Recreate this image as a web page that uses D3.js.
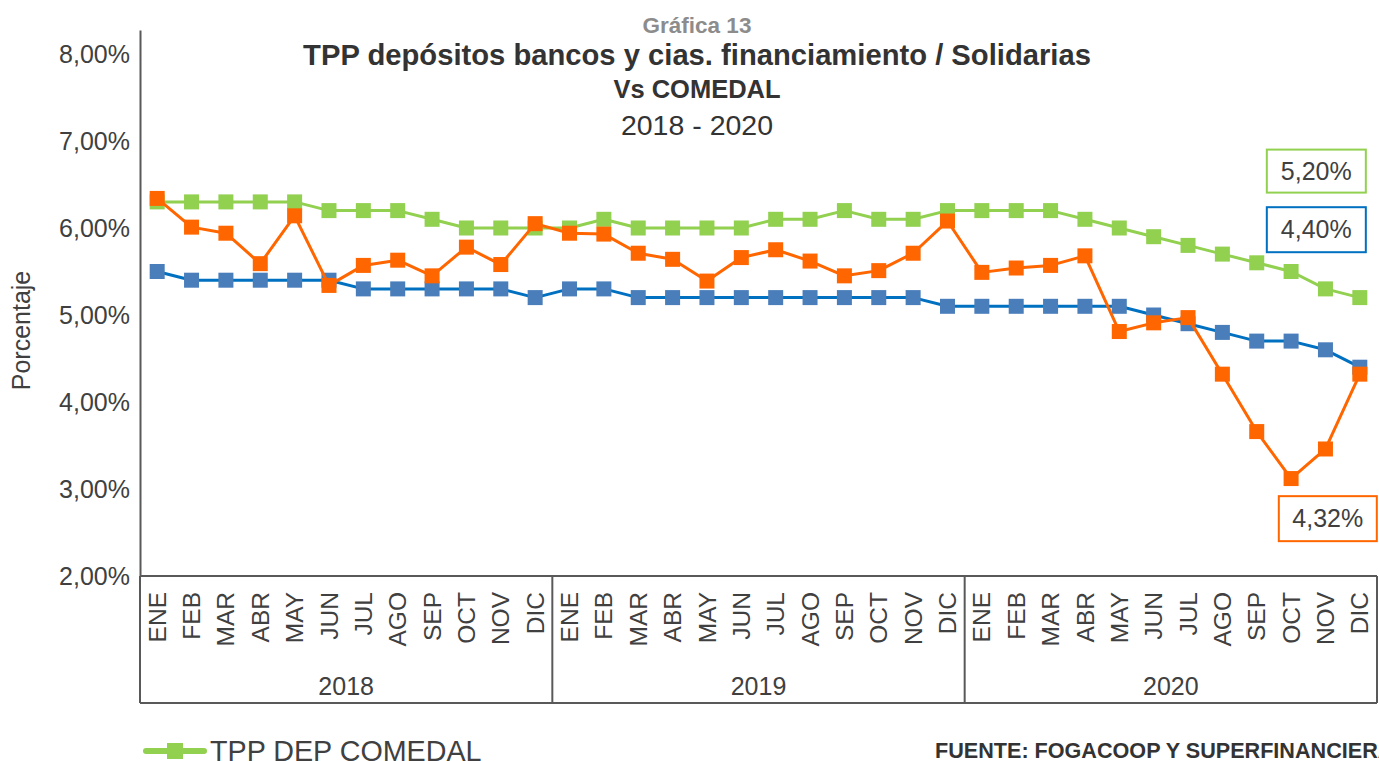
<!DOCTYPE html>
<html>
<head>
<meta charset="utf-8">
<script src="https://cdn.jsdelivr.net/npm/d3@7"></script>
<style>
  html, body { margin: 0; padding: 0; background: #fff; overflow: hidden; }
  svg { display: block; font-family: "Liberation Sans", Arial, Helvetica, sans-serif; }
</style>
</head>
<body>
<svg id="chart" width="1379" height="761"></svg>
<script>
const months = ["ENE","FEB","MAR","ABR","MAY","JUN","JUL","AGO","SEP","OCT","NOV","DIC"];
const years = ["2018","2019","2020"];
const yTicks = [2, 3, 4, 5, 6, 7, 8];

const comedal = [6.3,6.3,6.3,6.3,6.3,6.2,6.2,6.2,6.1,6.0,6.0,6.0,
                 6.0,6.1,6.0,6.0,6.0,6.0,6.1,6.1,6.2,6.1,6.1,6.2,
                 6.2,6.2,6.2,6.1,6.0,5.9,5.8,5.7,5.6,5.5,5.3,5.2];
const bancos = [5.5,5.4,5.4,5.4,5.4,5.4,5.3,5.3,5.3,5.3,5.3,5.2,
                5.3,5.3,5.2,5.2,5.2,5.2,5.2,5.2,5.2,5.2,5.2,5.1,
                5.1,5.1,5.1,5.1,5.1,5.0,4.9,4.8,4.7,4.7,4.6,4.4];
const solidarias = [6.34,6.01,5.94,5.59,6.14,5.34,5.57,5.63,5.45,5.78,5.58,6.05,
                    5.94,5.93,5.71,5.64,5.39,5.66,5.75,5.62,5.45,5.51,5.71,6.08,
                    5.49,5.54,5.57,5.68,4.81,4.91,4.97,4.32,3.66,3.12,3.46,4.32];

const titleLines = ["Gráfica 13", "TPP depósitos bancos y cias. financiamiento / Solidarias", "Vs COMEDAL", "2018 - 2020"];
const legendLabel = "TPP DEP COMEDAL";
const sourceText = "FUENTE: FOGACOOP Y SUPERFINANCIERA";

const fmt = v => d3.format(".2f")(v).replace(".", ",") + "%";

const svg = d3.select("#chart");
const textColor = "#404040";
const axisColor = "#595959";

const pLeft = 140, pRight = 1377, pTop = 30, pBottom = 576, boxBottom = 703;

// categories
const cats = [];
years.forEach(yr => months.forEach(m => cats.push({ yr, m })));
const x = d3.scaleBand().domain(d3.range(cats.length)).range([pLeft, pRight]);
const y = d3.scaleLinear().domain([2, 2 + (pBottom - pTop) / 87]).range([pBottom, pTop]);
const cx = i => x(i) + x.bandwidth() / 2;

// Titles
const tcx = 697;
svg.append("text").attr("x", tcx).attr("y", 33).attr("text-anchor", "middle")
  .attr("font-size", 22.5).attr("font-weight", "bold").attr("fill", "#8c8c8c").text(titleLines[0]);
svg.append("text").attr("x", tcx).attr("y", 65).attr("text-anchor", "middle")
  .attr("font-size", 29.2).attr("font-weight", "bold").attr("fill", "#333").text(titleLines[1]);
svg.append("text").attr("x", tcx).attr("y", 98).attr("text-anchor", "middle")
  .attr("font-size", 25.5).attr("font-weight", "bold").attr("fill", "#333").text(titleLines[2]);
svg.append("text").attr("x", tcx).attr("y", 135).attr("text-anchor", "middle")
  .attr("font-size", 28.5).attr("fill", "#333").text(titleLines[3]);

// Y axis
const yAxis = d3.axisLeft(y).tickValues(yTicks).tickSize(0).tickPadding(10).tickFormat(fmt);
const gy = svg.append("g").attr("transform", `translate(${pLeft},0)`).call(yAxis);
gy.select(".domain").attr("stroke", axisColor).attr("stroke-width", 2);
gy.selectAll("text").attr("font-size", 25).attr("fill", textColor)
  .attr("font-family", "Liberation Sans, Arial, sans-serif");

svg.append("text")
  .attr("transform", `translate(30,${(268 + 393) / 2}) rotate(-90)`)
  .attr("text-anchor", "middle").attr("font-size", 25).attr("fill", textColor).text("Porcentaje");

// X axis (multi-level category box)
const gx = svg.append("g");
gx.append("line").attr("x1", pLeft).attr("x2", pRight).attr("y1", pBottom).attr("y2", pBottom)
  .attr("stroke", axisColor).attr("stroke-width", 2);
gx.append("line").attr("x1", pLeft).attr("x2", pRight).attr("y1", boxBottom).attr("y2", boxBottom)
  .attr("stroke", axisColor).attr("stroke-width", 2);
[0, 12, 24, 36].forEach(i => {
  const xx = i < 36 ? x(i) : pRight;
  gx.append("line").attr("x1", xx).attr("x2", xx).attr("y1", pBottom).attr("y2", boxBottom)
    .attr("stroke", axisColor).attr("stroke-width", 2);
});
gx.selectAll("text.month").data(cats).join("text").attr("class", "month")
  .attr("transform", (d, i) => `translate(${cx(i)},592) rotate(-90)`)
  .attr("text-anchor", "end").attr("dy", "0.35em")
  .attr("font-size", 24.5).attr("fill", textColor).text(d => d.m);
gx.selectAll("text.year").data(years).join("text").attr("class", "year")
  .attr("x", (d, k) => (x(k * 12) + (k === 2 ? pRight : x((k + 1) * 12))) / 2)
  .attr("y", 695).attr("text-anchor", "middle")
  .attr("font-size", 25).attr("fill", textColor).text(d => d);

// Series
const series = [
  { name: "comedal", values: comedal, line: "#92D050", marker: "#92D050" },
  { name: "bancos", values: bancos, line: "#0070C0", marker: "#4A7EBB" },
  { name: "solidarias", values: solidarias, line: "#FF6600", marker: "#FF6600" }
];
const lineGen = d3.line().x((d, i) => cx(i)).y(d => y(d));
const ms = 15;
series.forEach(s => {
  const g = svg.append("g");
  g.append("path").datum(s.values).attr("d", lineGen).attr("fill", "none")
    .attr("stroke", s.line).attr("stroke-width", 3).attr("stroke-linejoin", "round");
  g.selectAll("rect").data(s.values).join("rect")
    .attr("x", (d, i) => cx(i) - ms / 2).attr("y", d => y(d) - ms / 2)
    .attr("width", ms).attr("height", ms).attr("fill", s.marker);
});

// Data label boxes
const last = cats.length - 1;
function labelBox(val, color, bx, by, w, h) {
  svg.append("rect").attr("x", bx).attr("y", by).attr("width", w).attr("height", h)
    .attr("fill", "#fff").attr("stroke", color).attr("stroke-width", 2);
  svg.append("text").attr("x", bx + w / 2).attr("y", by + h / 2).attr("dy", "0.35em")
    .attr("text-anchor", "middle").attr("font-size", 25).attr("fill", textColor).text(fmt(val));
}
labelBox(comedal[last], "#92D050", cx(last) - 93, y(comedal[last]) - 148, 99, 43);
labelBox(bancos[last], "#0070C0", cx(last) - 93, y(bancos[last]) - 160, 99, 45);
labelBox(solidarias[last], "#FF6600", cx(last) - 81, y(solidarias[last]) + 122, 98, 45);

// Legend
const lg = svg.append("g");
lg.append("line").attr("x1", 146).attr("x2", 204).attr("y1", 751).attr("y2", 751)
  .attr("stroke", "#92D050").attr("stroke-width", 6).attr("stroke-linecap", "round");
lg.append("rect").attr("x", 175 - 8).attr("y", 751 - 8).attr("width", 16).attr("height", 16).attr("fill", "#92D050");
lg.append("text").attr("x", 210).attr("y", 761).attr("font-size", 28.7).attr("fill", textColor).text(legendLabel);

// Source
svg.append("text").attr("x", 935).attr("y", 758).attr("font-size", 21.6).attr("font-weight", "bold")
  .attr("fill", "#333").text(sourceText);
</script>
</body>
</html>
